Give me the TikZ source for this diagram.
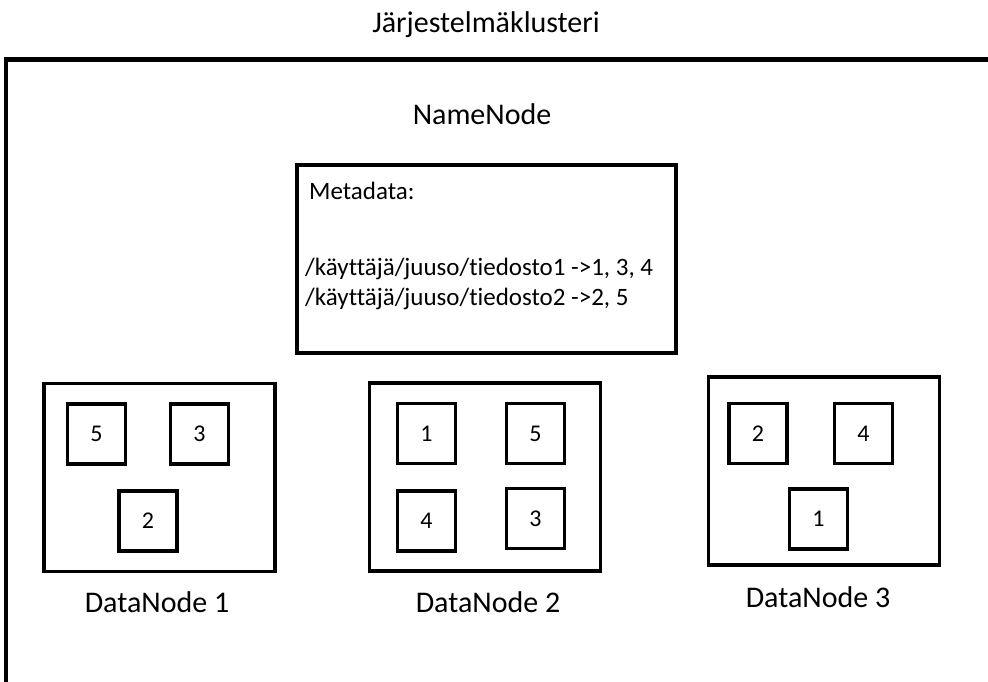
\documentclass[tikz,border=0pt]{standalone}
\usepackage{fontspec}
\setmainfont{Carlito}[Ligatures={NoCommon,NoContextual}]
\begin{document}
\begin{tikzpicture}[x=1pt,y=-1pt,
  frame/.style={line width=4.5pt},
  bigbox/.style={draw, line width=3.6pt, inner sep=0pt, minimum width=231pt, minimum height=188pt},
  blk/.style={draw, line width=3.6pt, inner sep=0pt, minimum width=58pt, minimum height=60pt, font=\fontsize{24}{28}\selectfont},
  heading/.style={anchor=base, inner sep=0pt, font=\fontsize{30}{35}\selectfont},
  meta/.style={anchor=base west, inner sep=0pt, font=\fontsize{25}{30}\selectfont}]
\useasboundingbox (0,0) rectangle (988,682);

% cluster frame, open to the right and bottom
\coordinate (fbl) at (6,700);
\coordinate (ftl) at (6,59.5);
\coordinate (ftr) at (1000,59.5);
\draw[frame] (fbl) -- (ftl) -- (ftr);
\node[heading] (title) at (486,33) {Järjestelmäklusteri};

% name node with its metadata table
\node[heading] (nn) at (482,125) {NameNode};
\node[draw, line width=3.6pt, inner sep=0pt, minimum width=379pt, minimum height=188pt] (meta) at (486.5,259) {};
\node[meta] (m0) at (309,200) {Metadata:};
\node[meta] (m1) at (305,275) {/käyttäjä/juuso/tiedosto1 ->1, 3, 4};
\node[meta] (m2) at (305,305) {/käyttäjä/juuso/tiedosto2 ->2, 5};

% DataNode 1
\node[bigbox] (d1) at (159.5,477.5) {};
\node[blk] (d1a) at (96.5,434) {5};
\node[blk] (d1b) at (199.5,434) {3};
\node[blk] (d1c) at (148,521) {2};
\node[heading] (l1) at (157,612) {DataNode 1};

% DataNode 2
\node[bigbox] (d2) at (485,477) {};
\node[blk] (d2a) at (426.5,433.5) {1};
\node[blk] (d2b) at (535.5,433.5) {5};
\node[blk] (d2c) at (426.5,521) {4};
\node[blk] (d2d) at (535.5,518.5) {3};
\node[heading] (l2) at (488,612) {DataNode 2};

% DataNode 3
\node[bigbox] (d3) at (824,471) {};
\node[blk] (d3a) at (758,433.5) {2};
\node[blk] (d3b) at (863.5,433.5) {4};
\node[blk] (d3c) at (818.5,519) {1};
\node[heading] (l3) at (818,607) {DataNode 3};
\end{tikzpicture}
\end{document}
